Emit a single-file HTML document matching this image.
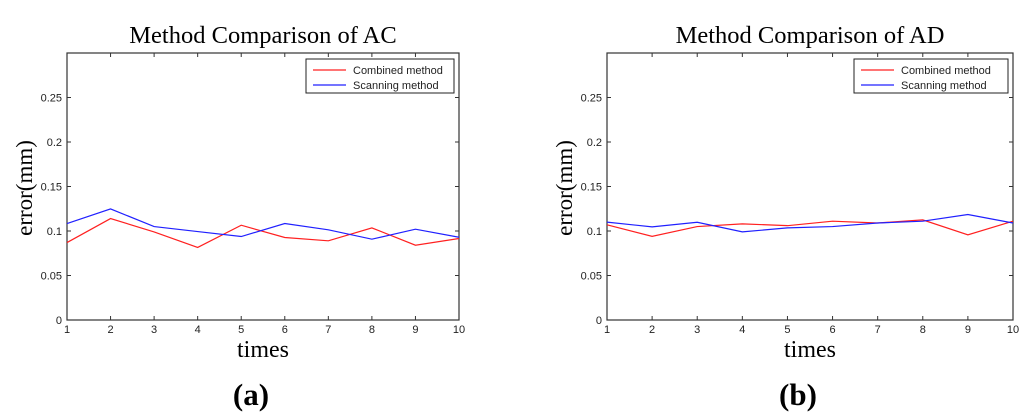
<!DOCTYPE html>
<html><head><meta charset="utf-8">
<style>
html,body{margin:0;padding:0;background:#fff;width:1024px;height:418px;overflow:hidden}
svg{display:block}
.tk{font-family:"Liberation Sans",sans-serif;font-size:11px;fill:#222}
.ser{font-family:"Liberation Serif",serif;fill:#000}
</style></head><body>
<svg id="fig" width="1024" height="418" xmlns="http://www.w3.org/2000/svg"></svg>
<script>
const categories = [1,2,3,4,5,6,7,8,9,10];
const yTicks = [0,0.05,0.1,0.15,0.2,0.25];
const yTickLabels = ["0","0.05","0.1","0.15","0.2","0.25"];
const acCombined = [0.087,0.114,0.099,0.0815,0.1065,0.0927,0.089,0.1035,0.084,0.0916];
const acScanning = [0.1084,0.1248,0.105,0.0994,0.0938,0.1084,0.1013,0.0908,0.102,0.093];
const adCombined = [0.107,0.094,0.105,0.108,0.106,0.111,0.109,0.1125,0.0957,0.111];
const adScanning = [0.11,0.1046,0.1098,0.099,0.1035,0.105,0.109,0.111,0.1185,0.109];
const seriesNames = ["Combined method","Scanning method"];

const NS="http://www.w3.org/2000/svg";
const svg=document.getElementById('fig');
function mk(tag,attrs,parent){const e=document.createElementNS(NS,tag);for(const k in attrs)e.setAttribute(k,attrs[k]);(parent||svg).appendChild(e);return e;}

function chart(cfg){
  const g=mk('g',{});
  
  
  const L=cfg.x0,R=cfg.x1,T=53,B=320,ymax=0.3;
  const xs=v=>L+(v-1)*(R-L)/9;
  const ys=v=>B-v*(B-T)/ymax;
  const box=mk('rect',{x:L,y:T,width:R-L,height:B-T,fill:'#fff',stroke:'#333','stroke-width':1.2},g);
  
  
  categories.forEach(c=>{
    const x=xs(c);
    mk('line',{x1:x,y1:B,x2:x,y2:B-4,stroke:'#333'},g);
    mk('line',{x1:x,y1:T,x2:x,y2:T+4,stroke:'#333'},g);
    const t=mk('text',{x:x,y:B+13,'text-anchor':'middle',class:'tk'},g);
    t.textContent=c;
    
    
  });
  yTicks.forEach((v,i)=>{
    const y=ys(v);
    mk('line',{x1:L,y1:y,x2:L+4,y2:y,stroke:'#333'},g);
    mk('line',{x1:R,y1:y,x2:R-4,y2:y,stroke:'#333'},g);
    const t=mk('text',{x:L-5,y:y+4,'text-anchor':'end',class:'tk'},g);
    t.textContent=yTickLabels[i];
    
    
  });
  const cols=['#ff2020','#2020ff'];
  [cfg.a,cfg.b].forEach((s,i)=>{
    const p=mk('polyline',{points:s.map((v,j)=>xs(categories[j])+','+ys(v)).join(' '),fill:'none',stroke:cols[i],'stroke-width':1.2},g);
    
    
  });
  const lg=mk('g',{},g);
  
  
  mk('rect',{x:cfg.lx,y:59,width:cfg.lw,height:34,fill:'#fff',stroke:'#222','stroke-width':1},lg);
  seriesNames.forEach((n,i)=>{
    const yy=70+i*15;
    mk('line',{x1:cfg.lx+7,y1:yy,x2:cfg.lx+40,y2:yy,stroke:cols[i],'stroke-width':1.2},lg);
    const t=mk('text',{x:cfg.lx+47,y:yy+4,class:'tk'},lg);
    t.textContent=n;
    
    
  });
  const cx=(L+R)/2;
  const tt=mk('text',{x:cx,y:43,'text-anchor':'middle',class:'ser','font-size':24.5},g);
  tt.textContent=cfg.title;
  
  
  const xl=mk('text',{x:cx,y:357,'text-anchor':'middle',class:'ser','font-size':24},g);
  xl.textContent='times';
  
  
  const yl=mk('text',{x:0,y:0,'text-anchor':'middle',class:'ser','font-size':23,transform:'translate('+(L-35)+',188) rotate(-90)'},g);
  yl.textContent='error(mm)';
  
  
  const pl=mk('text',{x:cx-12,y:405,'text-anchor':'middle',class:'ser','font-size':31,'font-weight':'bold'},g);
  pl.textContent=cfg.panel;
  
  
}
chart({name:'chart-ac',x0:67,x1:459,a:acCombined,b:acScanning,lx:306,lw:148,title:'Method Comparison of AC',panel:'(a)'});
chart({name:'chart-ad',x0:607,x1:1013,a:adCombined,b:adScanning,lx:854,lw:154,title:'Method Comparison of AD',panel:'(b)'});
</script>
</body></html>
